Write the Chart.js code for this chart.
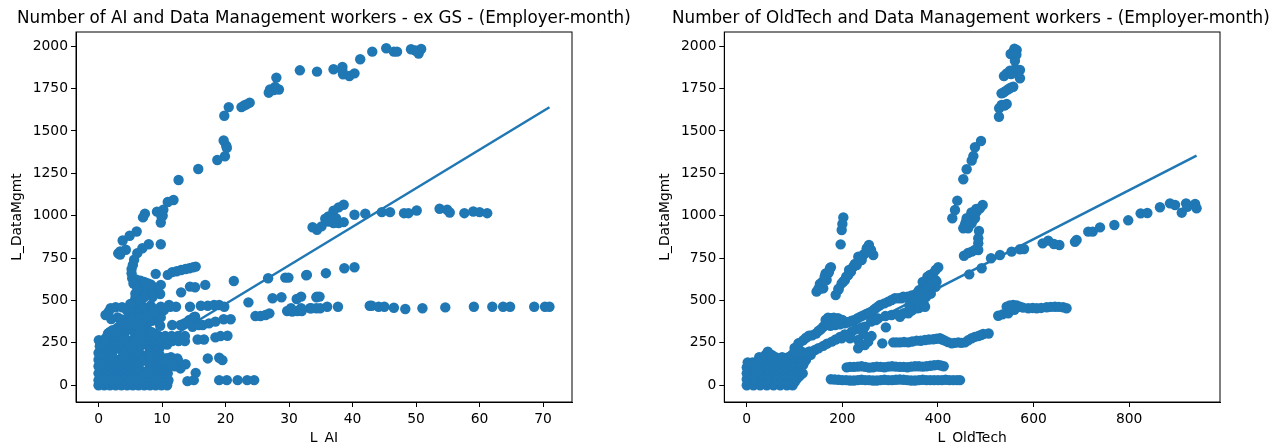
<!DOCTYPE html>
<html lang="en">
<head>
    <meta charset="UTF-8">
    <title>AI, OldTech and Data Management workers</title>
    <script src="https://cdn.jsdelivr.net/npm/chart.js"></script>
    <style>
        body { margin: 0; background: #fff; overflow: hidden; }
        canvas { position: absolute; top: 0; }
        #aiChart { left: 0; }
        #oldTechChart { left: 655px; }
    </style>
</head>
<body>
    <canvas id="aiChart" width="640" height="443"></canvas>
    <canvas id="oldTechChart" width="617" height="443"></canvas>

    <script>
        const dataMgmtTicks = [0, 250, 500, 750, 1000, 1250, 1500, 1750, 2000];
        const aiTicks = [0, 10, 20, 30, 40, 50, 60, 70];
        const oldTechTicks = [0, 200, 400, 600, 800];

        // Left panel, [L_AI, L_DataMgmt]
        const aiFit = [[0, 25], [71, 1640]];
        const aiTopArc = [[31.7, 1858], [34.4, 1850], [28, 1815], [28.4, 1745], [26.8, 1726], [27.6, 1741], [27, 1745], [27.8, 1760],
            [20.5, 1641], [19.8, 1590], [22.5, 1641], [22.9, 1650], [23.3, 1657], [23.8, 1667], [19.7, 1444], [20.1, 1414], [20.2, 1400],
            [19.9, 1351], [18.7, 1329], [15.7, 1276], [12.6, 1211], [11.8, 1093], [10.9, 1081], [10.2, 1035], [9.2, 1024], [9.9, 996],
            [7.3, 1012], [7, 990], [9.8, 960], [10.1, 1000], [37, 1864], [38.4, 1878], [38.5, 1834], [39.5, 1824], [40.3, 1840], [38.4, 1855],
            [41.2, 1923], [43.1, 1968], [45.3, 1988], [46.5, 1968], [47, 1968], [49.2, 1982], [50.4, 1957], [50.8, 1984], [49.9, 1975]];
        const aiRow1000 = [[38.6, 1065], [37.8, 1049], [37, 1030], [36.2, 996], [35.7, 982], [38.6, 962], [37.8, 957], [37, 957], [36.2, 966],
            [36.8, 1000], [37.4, 985], [35.1, 937], [34.4, 917], [33.7, 932], [40.3, 1006], [42, 1012], [44.6, 1021], [45.9, 1021], [48.1, 1015],
            [48.8, 1015], [50.1, 1031], [53.7, 1041], [54.9, 1035], [55.3, 1019], [57.6, 1015], [59, 1025], [60, 1021], [61.2, 1015]];
        const aiRow650 = [[32.7, 649], [35.8, 661], [38.7, 690], [40.3, 696], [21.3, 615], [26.7, 631], [29.4, 635], [29.9, 635], [32.8, 651]];
        const aiRow460 = [[34.4, 523], [34.8, 523], [36, 463], [37.7, 463], [33.3, 454], [34.3, 454], [34.9, 454], [42.7, 469], [43, 469],
            [44.1, 463], [45, 463], [46.5, 457], [48.3, 450], [51, 454], [54.6, 459], [59.1, 463], [62, 463], [63.7, 463], [64.8, 463],
            [68.6, 463], [70.3, 463], [71, 463], [24.7, 408], [25.5, 408], [26.3, 414], [26.9, 424], [23.6, 489], [27.4, 513], [28.8, 519],
            [31.2, 509], [31.9, 523], [34.3, 519], [29.7, 438], [30.5, 434], [31.3, 438], [32, 438], [33.5, 454], [30.3, 454], [31.9, 454]];
        const aiLowerFan = [[9.8, 832], [6, 907], [4.9, 882], [3.8, 854], [4.3, 799], [3.4, 789], [3.1, 778], [3.4, 771], [7.9, 832], [6.9, 808],
            [6.1, 779], [5.6, 740], [5.2, 685], [5.3, 631], [6.6, 617], [7.7, 602], [9, 572], [9.8, 592], [10.9, 651], [11.6, 667], [13, 680],
            [14.3, 690], [15.3, 700], [9, 657], [12.3, 672], [13.7, 686], [14.9, 696], [5.4, 710], [5.2, 660], [5.9, 624], [8.4, 586],
            [13, 548], [14.4, 582], [15.2, 578], [16.8, 592], [9.7, 538], [6.6, 592], [5.8, 513], [6.3, 562], [7.2, 552], [9.3, 562],
            [1.1, 414], [1.9, 454], [2.7, 460], [3.7, 460], [5, 463], [6.1, 473], [9.8, 463], [11.1, 473], [12.2, 463], [8.7, 434], [10.3, 444],
            [1.6, 434], [14.4, 463], [16.1, 469], [17.2, 469], [18.2, 473], [19, 473], [19.8, 463], [6.4, 404], [7.7, 395], [4.8, 365], [3.5, 355],
            [1.9, 315], [0.3, 247], [0.05, 266], [5.6, 470], [6, 440], [5.5, 420], [7, 425], [8.2, 470],
            [6.5, 540], [7.5, 545], [8.4, 545], [6.2, 510], [5.8, 540], [6.8, 510], [8.5, 520], [6, 490], [6.6, 440], [7, 400], [8, 410], [8.8, 400],
            [9.5, 420], [5, 440], [3, 400], [2, 390], [7.5, 350], [7.2, 610], [8.2, 595], [5.5, 600], [6.1, 570],
            [8.4, 380], [9, 385], [9.8, 400], [7.5, 450], [8.5, 455], [9.2, 440], [6.8, 470], [6.5, 500], [7.2, 520], [5, 480], [4.5, 440], [5.5, 400], [3.5, 390], [4.5, 390]];
        const aiScatterLow = [[9.7, 351], [11.6, 355], [13.5, 365], [14.3, 385], [15.2, 404], [14.8, 345], [12.9, 355], [14, 373], [15, 402], [15.8, 355], [16.4, 355],
            [17.4, 365], [18.4, 375], [19.7, 389], [20.8, 389], [15.6, 270], [16.6, 270], [18.4, 282], [19.2, 290], [20.3, 292], [17.2, 158],
            [19, 162], [19.5, 148], [19, 30], [20.2, 30], [21.9, 30], [23.4, 30], [24.5, 30], [14, 24], [15, 30], [15.3, 73], [12.4, 158],
            [13.7, 124], [12.9, 99], [10.9, 20], [12.5, 148], [11.4, 166], [8.7, 432], [11.3, 462]];
        // points just round the four small gaps in the dense block
        const aiGapEdges = [[6.3, 112], [8.1, 112], [7.2, 146], [7.2, 78], [6.55, 85], [7.85, 85], [6.55, 139], [7.85, 139],
            [2.1, 183], [3.9, 183], [3, 217], [3, 149], [2.35, 156], [3.65, 156], [2.35, 210], [3.65, 210],
            [6.3, 207], [8.1, 207], [7.2, 241], [7.2, 173], [6.55, 180], [7.85, 180], [6.55, 234], [7.85, 234],
            [4, 295], [5.8, 295], [4.9, 329], [4.9, 261], [4.25, 268], [5.55, 268], [4.25, 322], [5.55, 322]];
        const aiDenseRows = [
            [0, [0, 0.9, 1.8, 2.7, 3.6, 4.5, 5.4, 6.3, 7.2, 8.1, 9, 9.9, 10.8]],
            [15, [0.5, 1.5, 2.5, 3.5, 4.5, 5.5, 6.5, 7.5, 8.5, 9.5, 10.5]],
            [30, [0, 1, 2, 3, 4, 5, 6, 7, 8, 9, 10, 11]],
            [50, [0.5, 1.5, 2.5, 3.5, 4.5, 5.5, 6.5, 7.5, 8.5, 9.5, 10.5]],
            [70, [0, 1, 2, 3, 4, 5, 6, 7.2, 8.2, 9, 10, 10.9]],
            [90, [0.5, 1.5, 2.5, 3.5, 4.5, 5.5, 6.2, 8.2, 9.5, 10.5]],
            [100, [0.4, 1.4, 2.4, 3.4, 4.4, 5.4, 8.8, 9.8, 10.8]],
            [112, [0, 1, 2, 3, 4, 5, 6, 8.4, 9, 10, 11, 12]],
            [122, [0.4, 1.4, 2.4, 3.4, 4.4, 5.4, 8.8, 9.8, 10.8, 11.8]],
            [132, [0.5, 1.5, 2.5, 3.5, 4.5, 5.5, 6.2, 8.2, 9.5, 10.5, 11.5]],
            [142, [1, 2, 4, 5, 9, 10]],
            [150, [0, 1, 2, 4, 5, 6, 7.2, 8.2, 9, 10, 11]],
            [160, [0.4, 1.2, 2.2, 4.2, 5.2, 6.2, 8.7, 9.7, 10.7]],
            [170, [0.5, 1.5, 2, 4, 4.5, 5.5, 6.5, 8, 9]],
            [180, [0.4, 1.3, 4.6, 5.3, 5.9, 8.8, 9.6]],
            [190, [0, 1, 2, 4, 5, 6.2, 8.2, 9.2]],
            [200, [0.5, 1.3, 4.5, 5.5, 8.9]],
            [210, [0.5, 1.5, 2, 4, 5, 6, 8.4, 9.4]],
            [220, [0.4, 1.3, 2.2, 3.6, 4.6, 5.6, 8.9, 9.6]],
            [230, [0.2, 1, 2, 3, 4, 5, 6.3, 8.2, 9.2]],
            [240, [0.6, 1.6, 2.6, 3.6, 4.6, 5.6, 8.8, 9.8, 10.8]],
            [250, [0.4, 1.5, 2.5, 3.5, 5.5, 6.5, 7.2, 8, 9, 10]],
            [260, [0.8, 1.8, 2.8, 3.6, 6.4, 7.6, 8.6, 9.6, 10.6, 11.6, 12.6, 13.6]],
            [270, [1, 2, 3, 4, 5.9, 7, 8, 9, 10, 11, 12, 13]],
            [280, [1.2, 2.4, 3.4, 6.7, 7.7, 8.7, 9.7]],
            [290, [2, 3, 3.7, 6.1, 7.5, 8.5, 9.5, 10.5, 11.5, 12.5, 13.6]],
            [305, [1.5, 2.5, 3.7, 6.1, 7, 8, 8.8]],
            [315, [1.8, 2.8, 3.4, 6.4, 7.4, 8.3]],
            [325, [2.2, 3.2, 4.2, 6.2, 7.2]],
            [340, [3, 4, 5, 6, 7]],
            [350, [3.4, 4.4, 5.4, 6.4]],
            [360, [3.8, 4.8, 5.8, 6.8, 7.6]],
            [370, [4.4, 5.4, 6.4, 7.3]],
            [380, [5, 6, 7, 8]],
            [390, [5.4, 6.2, 7.2]],
            [400, [5.5, 6.5, 7.5]]
        ];

        // Right panel, [L_OldTech, L_DataMgmt]
        const oldTechFit = [[0, -5], [941, 1354]];
        const oldTechSteep = [[564.6, 1978], [557.5, 1968], [552, 1954], [561, 1914], [561, 1864], [571.5, 1860], [550.6, 1856], [543.7, 1840], [538, 1824],
            [571.5, 1811], [566, 1840], [557.5, 1761], [547, 1746], [536.6, 1726], [533, 1722], [543.7, 1659], [533, 1653], [528, 1634], [527.6, 1584],
            [490, 1441], [477.4, 1404], [474, 1352], [470.5, 1325], [460, 1274], [453, 1215], [440.4, 1089], [435.6, 1034], [430, 985],
            [493.5, 1063], [487.9, 1044], [481, 1024], [474, 1004], [467, 985], [463, 965], [456.5, 945], [453, 926], [463, 926], [477.4, 985],
            [470.5, 955], [485.8, 910], [484.3, 867], [484.3, 837], [484.3, 798], [470.5, 788], [454.4, 764], [463, 780], [477, 798],
            [560, 1985], [564, 1950], [553, 1836], [552, 1755], [541, 1735], [539, 1650], [480, 1040], [470, 1020], [460, 985], [458, 960]];
        const oldTechRow1000 = [[465.5, 654], [491.4, 690], [511, 749], [529.7, 768], [554, 788], [571.5, 802], [580, 804], [619, 837], [630.7, 853],
            [642.6, 833], [654, 827], [686.6, 846], [690, 857], [714.4, 906], [723.6, 906], [739, 931], [769, 945], [798, 973], [824, 1014],
            [838, 1016], [864.4, 1050], [885.4, 1073], [896, 1063], [910, 1018], [919, 1073], [938, 1069], [941, 1044], [921.6, 1053]];
        const oldTechRow460 = [[526, 410], [535, 418], [547, 424], [543.7, 463], [557.5, 473], [571.5, 463], [589, 454], [606.5, 454], [627.4, 460],
            [644.8, 463], [662, 460], [669, 454], [550.6, 454], [560, 445], [578, 458], [598, 456], [616, 456], [636, 462], [653, 462], [565, 470], [550, 470]];
        const oldTechBand = [[400.6, 696], [390, 660], [380, 631], [397, 611], [369, 581], [387, 572], [355.4, 542], [376.4, 542], [362.3, 503], [327.4, 522],
            [341.4, 503], [369, 467], [355.4, 454], [327.4, 424], [320.5, 404], [383, 650], [372.8, 591], [366, 540], [352, 532], [336, 522],
            [324, 513], [310, 513], [296, 493], [279, 473], [270, 455], [261, 434], [250, 420], [238, 405], [226, 385], [215, 375], [205, 365],
            [190, 365], [178, 395], [191, 395], [172, 395], [185, 355], [164, 355], [155, 330], [145, 305], [130, 292], [118, 265], [108, 247],
            [373, 463], [338, 424], [303, 414], [275, 394], [247, 345], [219.5, 316], [195, 285], [178, 257], [160, 232], [142.6, 208], [125, 188],
            [114, 166], [88, 165], [100, 220], [291, 341], [261, 290], [244, 302], [254, 257], [233, 218], [247, 237], [216, 277], [198.5, 277], [233, 267],
            [110, 250], [124, 280], [137, 295], [150, 320], [160, 345], [170, 360], [180, 370], [200, 385], [210, 370], [220, 380], [232, 395], [244, 412],
            [256, 428], [266, 445], [275, 465], [288, 483], [303, 503], [317, 513], [330, 520], [345, 530], [358, 540], [170, 398], [182, 398], [165, 385], [195, 360], [175, 350],
            [132, 198], [150, 218], [168, 245], [186, 270], [205, 300], [228, 330], [240, 340], [260, 375], [270, 385], [290, 408], [315, 418], [330, 425], [345, 440], [360, 455], [370, 480],
            [365, 510], [375, 520], [385, 540], [395, 580], [375, 560], [360, 560], [368, 610], [378, 640], [388, 630], [395, 680], [352, 480], [340, 470], [350, 510],
            [395, 620], [385, 600], [378, 580], [368, 550], [360, 525], [390, 610]];
        const oldTechRow250 = [[283.5, 247], [306.5, 253], [313, 253], [320.5, 253], [329, 255], [337.9, 253], [346, 258], [355.4, 263], [364, 262], [372.8, 267], [381, 270], [390.2, 271],
            [397, 274], [404, 277], [409, 270], [414.6, 263], [421, 254], [428.7, 247], [435, 250], [442.5, 253], [449, 250], [456.5, 253], [463, 265], [470.5, 277], [477, 285], [484.3, 290], [490, 296], [494.8, 302], [506, 305]];
        const oldTechRow110 = [[209, 105], [216, 108], [224, 108], [232, 110], [240, 112], [248, 108], [256, 104], [264, 106], [272, 110], [280, 108], [288, 106], [296, 110], [304, 112], [312, 110], [320, 108],
            [328, 108], [336, 106], [344, 110], [352, 112], [360, 112], [368, 110], [376, 112], [384, 115], [392, 118], [400, 120], [406, 116], [412, 112]];
        const oldTechRow30 = [[176, 35], [184, 34], [192, 32], [200, 30], [208, 30], [216, 28], [224, 28], [232, 30], [240, 32], [248, 30], [256, 30], [264, 28], [272, 28], [280, 30], [288, 32], [296, 30], [304, 30], [312, 32], [320, 34], [328, 32], [336, 30],
            [344, 28], [352, 28], [360, 30], [368, 32], [376, 30], [384, 30], [392, 30], [400, 30], [408, 30], [416, 32], [424, 30], [432, 30], [440, 30], [446, 30]];
        const oldTechPeaks = [[202, 990], [200, 951], [198.6, 916], [196.4, 831], [255.6, 827], [264.6, 768], [247.3, 778], [233.3, 758], [222.8, 699],
            [212.3, 650], [198.5, 601], [186, 532], [205.4, 621], [230, 709], [251, 808], [260, 798], [240.4, 739], [176, 696], [165, 660],
            [167, 621], [153, 597], [146, 552], [160, 572], [170.5, 660], [155, 570], [192, 565], [214, 680], [174, 690],
            [254, 790], [244, 770], [236, 735], [226, 715], [218, 670], [208, 640], [202, 612], [192, 570], [158, 610], [150, 570], [163, 640], [172, 670]];
        const oldTechDenseRows = [
            [0, [0, 14, 28, 42, 56, 70, 84, 96]],
            [8, [7, 21, 35, 49, 63, 77, 91]],
            [18, [7, 21, 35, 49, 63, 77, 91, 100]],
            [25, [14, 28, 42, 56, 70, 84, 96]],
            [35, [0, 15, 30, 45, 60, 75, 90, 104]],
            [52, [7, 22, 37, 52, 67, 82, 97, 110]],
            [60, [14, 30, 44, 58, 74, 88, 104]],
            [70, [0, 16, 32, 48, 64, 80, 96, 112, 117]],
            [88, [7, 22, 37, 52, 67, 82, 97, 110]],
            [95, [14, 28, 44, 60, 74, 90, 104]],
            [105, [0, 14, 28, 42, 56, 70, 84, 100, 112]],
            [120, [7, 20, 34, 48, 62, 76, 90, 104, 118]],
            [127, [14, 28, 42, 56, 70, 84, 100, 112]],
            [135, [2, 12, 24, 38, 52, 66, 80, 94, 108, 120]],
            [143, [34, 46, 58, 70, 82, 96, 110]],
            [150, [28, 38, 50, 62, 74, 86, 98, 112, 124]],
            [158, [32, 45, 55, 68, 80, 95, 105, 118]],
            [165, [26, 42, 60, 74, 88, 102, 110, 125]],
            [175, [38, 46, 54, 100, 114, 128]],
            [180, [40, 50, 95, 108, 122, 134]],
            [198, [44, 100, 115, 130]]
        ];

        const fromRows = rows => rows.flatMap(([y, xs]) => xs.map(x => [x, y]));
        const aiPoints = [...aiTopArc, ...aiRow1000, ...aiRow650, ...aiRow460, ...aiLowerFan, ...aiScatterLow, ...aiGapEdges, ...fromRows(aiDenseRows)];
        const oldTechPoints = [...oldTechSteep, ...oldTechRow1000, ...oldTechRow460, ...oldTechBand, ...oldTechRow250, ...oldTechRow110, ...oldTechRow30, ...oldTechPeaks, ...fromRows(oldTechDenseRows)];

        // box round the plot, matplotlib style
        const frame = {
            id: 'frame',
            afterDraw(chart) {
                const { left, top, width, height } = chart.chartArea;
                chart.ctx.save();
                chart.ctx.strokeStyle = '#000';
                chart.ctx.lineWidth = 1;
                chart.ctx.strokeRect(left, top, width, height);
                chart.ctx.restore();
            }
        };

        function drawPanel(id, opts) {
            const tickFont = { family: 'DejaVu Sans', size: 13.89 };
            new Chart(document.getElementById(id), {
                type: 'scatter',
                data: {
                    datasets: [
                        { data: opts.points, backgroundColor: '#1f77b4', pointRadius: 5.2, pointBorderWidth: 0 },
                        { data: opts.fit, showLine: true, borderColor: '#1f77b4', borderWidth: 2.5, pointRadius: 0 }
                    ]
                },
                options: {
                    responsive: false,
                    animation: false,
                    layout: { padding: { left: 17 } },
                    plugins: {
                        legend: { display: false },
                        tooltip: { enabled: false },
                        title: {
                            display: true,
                            text: opts.title,
                            align: 'start',
                            color: '#000',
                            font: { family: 'DejaVu Sans', size: 16.75, weight: 'normal', lineHeight: 1.2 },
                            padding: { top: 8.5, bottom: 3.4 }
                        }
                    },
                    scales: {
                        x: {
                            min: opts.xMin,
                            max: opts.xMax,
                            afterBuildTicks: s => { s.ticks = opts.xTicks.map(value => ({ value })); },
                            afterFit: s => { s.height = 41; },
                            border: { color: '#000' },
                            grid: { drawOnChartArea: false, tickLength: 5, tickColor: '#000' },
                            ticks: { color: '#000', font: tickFont, padding: 4, maxRotation: 0, autoSkip: false, callback: v => String(v) },
                            title: { display: true, text: opts.xLabel, color: '#000', font: tickFont, padding: { top: 0, bottom: -4 } }
                        },
                        y: {
                            min: -99,
                            max: 2084,
                            afterBuildTicks: s => { s.ticks = dataMgmtTicks.map(value => ({ value })); },
                            afterFit: s => { s.width = opts.yAxisWidth; },
                            border: { color: '#000' },
                            grid: { drawOnChartArea: false, tickLength: 5, tickColor: '#000' },
                            ticks: { color: '#000', font: tickFont, padding: 3, autoSkip: false, callback: v => String(v) },
                            title: { display: true, text: 'L_DataMgmt', color: '#000', font: tickFont, padding: { top: opts.yTitleShift, bottom: 0 } }
                        },
                        spacer: {
                            position: 'right',
                            ticks: { display: false },
                            grid: { display: false },
                            border: { display: false },
                            afterFit: s => { s.width = opts.rightGap; }
                        }
                    }
                },
                plugins: [frame]
            });
        }

        drawPanel('aiChart', {
            title: 'Number of AI and Data Management workers - ex GS - (Employer-month)',
            points: aiPoints, fit: aiFit, xTicks: aiTicks, xLabel: 'L_AI',
            xMin: -3.55, xMax: 74.55, yAxisWidth: 59, yTitleShift: -8, rightGap: 68
        });
        drawPanel('oldTechChart', {
            title: 'Number of OldTech and Data Management workers - (Employer-month)',
            points: oldTechPoints, fit: oldTechFit, xTicks: oldTechTicks, xLabel: 'L_OldTech',
            xMin: -47, xMax: 990, yAxisWidth: 52.3, yTitleShift: -15, rightGap: 52
        });
    </script>
</body>
</html>
